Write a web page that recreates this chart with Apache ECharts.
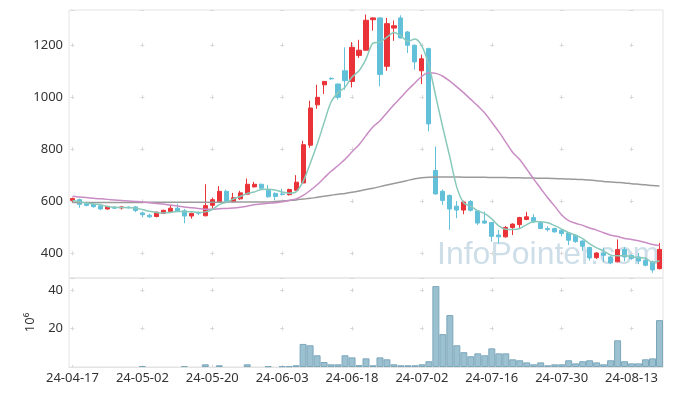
<!DOCTYPE html>
<html><head><meta charset="utf-8">
<script src="https://cdn.jsdelivr.net/npm/echarts@6/dist/echarts.min.js"></script>
<style>html,body{margin:0;padding:0;background:#fff}#c{width:673px;height:396px}</style>
</head><body><div id="c"></div>
<script>
const dates = ['24-04-17','24-04-18','24-04-19','24-04-22','24-04-23','24-04-24','24-04-25','24-04-26','24-04-29','24-04-30',
'24-05-02','24-05-03','24-05-07','24-05-08','24-05-09','24-05-10','24-05-13','24-05-14','24-05-16','24-05-17',
'24-05-20','24-05-21','24-05-22','24-05-23','24-05-24','24-05-27','24-05-28','24-05-29','24-05-30','24-05-31',
'24-06-03','24-06-04','24-06-05','24-06-07','24-06-10','24-06-11','24-06-12','24-06-13','24-06-14','24-06-17',
'24-06-18','24-06-19','24-06-20','24-06-21','24-06-24','24-06-25','24-06-26','24-06-27','24-06-28','24-07-01',
'24-07-02','24-07-03','24-07-04','24-07-05','24-07-08','24-07-09','24-07-10','24-07-11','24-07-12','24-07-15',
'24-07-16','24-07-17','24-07-18','24-07-19','24-07-22','24-07-23','24-07-24','24-07-25','24-07-26','24-07-29',
'24-07-30','24-07-31','24-08-01','24-08-02','24-08-05','24-08-06','24-08-07','24-08-08','24-08-09','24-08-12',
'24-08-13','24-08-14','24-08-16','24-08-19','24-08-20'];
const opens = [603,606,590,588,582,570,577,574,577,578,555,546,541,553,560,573,563,543,557,544,
584,598,638,598,609,627,655,665,642,630,628,625,642,670,815,970,1047,1072,1050,1101,
1060,1160,1180,1297,1304,1118,1265,1304,1250,1199,1101,1186,718,638,622,581,566,599,563,524,
518,470,463,499,510,530,537,517,495,495,488,478,469,447,422,383,401,386,367,414,
392,386,373,367,341];
const closes = [610,588,584,579,570,580,573,578,575,564,548,540,558,565,573,562,543,553,554,583,
606,638,600,613,632,665,665,650,617,618,626,645,673,817,958,999,1060,1070,999,1063,
1191,1180,1295,1304,1087,1282,1274,1227,1199,1135,1147,897,628,603,570,566,597,565,516,516,
465,463,499,512,537,540,520,495,491,482,476,450,445,427,382,401,392,363,414,386,
380,370,354,336,415];
const lows = [596,575,580,575,566,568,570,568,572,558,538,536,538,551,556,558,515,533,547,542,
566,596,597,595,605,625,653,648,614,604,622,622,640,668,805,955,1012,1066,990,1028,
1037,1150,1178,1255,1041,1101,1216,1225,1169,1105,1050,868,625,586,490,535,550,560,509,512,
445,438,460,470,495,527,518,493,484,480,465,431,440,409,372,378,367,358,365,369,
375,358,350,325,338];
const highs = [614,610,598,592,590,582,580,582,580,582,560,552,560,567,585,590,570,556,560,665,
614,658,645,632,640,687,674,668,662,634,648,648,700,832,986,1047,1062,1076,1052,1191,
1211,1220,1317,1306,1306,1304,1294,1314,1254,1202,1163,1190,810,645,626,601,602,605,566,560,
520,490,505,515,540,559,550,520,504,498,492,480,472,450,425,404,422,390,453,424,
395,401,385,372,440];
const volumes = [0,0,0,0,0,0,0,0,0,0,0.5,0,0,0,0,0,0.5,0,0,1.4,
0,0.9,0,0,0,1.4,0,0,0.4,0,0.4,0.4,0.9,12.0,11.3,6.1,2.6,1.4,1.4,6.1,
5.0,1.0,4.5,0.9,5.0,4.0,1.4,0.9,0.9,0.9,1.4,3.0,42.1,17.1,27.0,11.3,7.7,5.6,7.1,6.1,
9.7,7.1,7.1,4.0,3.5,2.4,1.4,2.4,0.9,1.4,1.4,3.5,1.9,3.0,3.5,2.4,1.4,3.5,13.9,3.0,
1.9,1.9,4.0,4.5,24.4];
const ma5 = [603,598,593,589,586,580,577,576,575,574,568,561,557,555,557,560,560,559,557,559,
568,587,596,608,618,630,635,645,646,643,635,631,636,676,744,818,901,981,1017,1038,
1077,1101,1146,1207,1211,1230,1248,1235,1214,1223,1196,1121,1001,882,769,653,593,580,563,552,
532,505,492,491,495,510,522,521,517,506,493,479,469,456,436,421,409,393,390,391,
387,383,381,365,371];
const ma20 = [619,616,614,611,609,607,605,603,601,599,597,594,591,589,585,582,578,575,572,569,
569,571,572,574,577,581,586,589,592,594,598,603,609,622,641,663,689,715,737,761,
790,817,852,886,909,940,970,999,1028,1054,1080,1093,1091,1080,1061,1039,1016,991,966,939,
903,867,827,787,760,723,685,649,613,581,547,525,515,507,497,489,479,469,464,457,
453,448,441,434,430];
const maLong = [595,595,595,595,595,595,595,595,595,595,595,596,596,596,596,596,596,596,596,596,
596,596,596,597,597,597,597,597,597,599,601,603,605,608,611,615,619,623,627,630,
634,639,645,650,656,662,668,674,680,686,690,692,693,693,693,693,692,692,692,692,
691,691,691,690,690,689,689,688,688,687,686,685,684,683,681,679,676,674,672,670,
667,665,663,660,658];

const candleData = opens.map((o, i) => [o, closes[i], lows[i], highs[i]]);
const volumeData = volumes.map(v => (v > 0 ? v : '-'));

// layout constants
const L = 69, W = 594, T1 = 10, H1 = 268, T2 = 278, H2 = 89;
const pMin = 305, pMax = 1334.4, vMax = 46.3;
const n = dates.length;
const bandW = W / n, xPeriod = bandW * 10, dashLen = 4;
const xOff = xPeriod - (bandW / 2 - dashLen / 2);
const pPeriod = H1 * 200 / (pMax - pMin);
const pFirst = H1 * (pMax - 1200) / (pMax - pMin);
const pOff = pPeriod - (pFirst - dashLen / 2);
const vPeriod = H2 * 20 / vMax;
const vFirst = H2 * (vMax - 40) / vMax;
const vOff = vPeriod - (vFirst - dashLen / 2);
const gridCol = '#d9d9d9';
const font = 'Noto Sans';
const plain = v => String(Math.round(v));

const chart = echarts.init(document.getElementById('c'), null, {renderer: 'canvas'});
chart.setOption({
  animation: false,
  backgroundColor: '#fff',
  textStyle: {fontFamily: font},
  graphic: [{
    type: 'text', left: 437, top: 239, z: -10,
    style: {text: 'InfoPointer.com', font: '32px "Liberation Sans", Arial, sans-serif', fill: 'rgba(145,182,206,0.45)'}
  }],
  grid: [
    {left: L, top: T1, width: W, height: H1, show: true, borderColor: '#e3e3e3', borderWidth: 1, backgroundColor: 'transparent'},
    {left: L, top: T2, width: W, height: H2, show: true, borderColor: '#e3e3e3', borderWidth: 1, backgroundColor: 'transparent'}
  ],
  xAxis: [
    {type: 'category', data: dates, gridIndex: 0, boundaryGap: true,
     axisLine: {show: false}, axisTick: {show: false}, axisLabel: {show: false},
     splitLine: {show: true, interval: 9, alignWithLabel: true,
       lineStyle: {color: gridCol, width: 1, type: [dashLen, pPeriod - dashLen], dashOffset: pOff}}},
    {type: 'category', data: dates, gridIndex: 1, boundaryGap: true,
     axisLine: {show: true, lineStyle: {color: '#e3e3e3'}}, axisTick: {show: false},
     axisLabel: {interval: 9, color: '#333', fontSize: 13, margin: 5, fontFamily: font},
     splitLine: {show: true, interval: 9, alignWithLabel: true,
       lineStyle: {color: gridCol, width: 1, type: [dashLen, vPeriod - dashLen], dashOffset: vOff}}}
  ],
  yAxis: [
    {type: 'value', gridIndex: 0, min: pMin, max: pMax, splitNumber: 5, scale: true,
     axisLine: {show: false}, axisTick: {show: false},
     axisLabel: {color: '#333', fontSize: 13, margin: 6, showMinLabel: false, showMaxLabel: false, fontFamily: font, formatter: plain},
     splitLine: {show: true, lineStyle: {color: gridCol, width: 1, type: [dashLen, xPeriod - dashLen], dashOffset: xOff}}},
    {type: 'value', gridIndex: 1, min: 0, max: vMax, interval: 20,
     name: '10\u2076', nameLocation: 'middle', nameRotate: 90, nameGap: 31,
     nameTextStyle: {color: '#333', fontSize: 13, fontFamily: font},
     axisLine: {show: false}, axisTick: {show: false},
     axisLabel: {color: '#333', fontSize: 13, margin: 6, showMinLabel: false, showMaxLabel: false, fontFamily: font, formatter: plain},
     splitLine: {show: true, lineStyle: {color: gridCol, width: 1, type: [dashLen, xPeriod - dashLen], dashOffset: xOff}}}
  ],
  series: [
    {type: 'candlestick', xAxisIndex: 0, yAxisIndex: 0, data: candleData, barWidth: 4.6,
     itemStyle: {color: '#ea3338', color0: '#63c0d9', borderColor: '#ea3338', borderColor0: '#63c0d9', borderWidth: 1}},
    {type: 'line', xAxisIndex: 0, yAxisIndex: 0, data: maLong, symbol: 'none', smooth: 0.3,
     lineStyle: {color: '#9a9a9a', width: 1.5}},
    {type: 'line', xAxisIndex: 0, yAxisIndex: 0, data: ma20, symbol: 'none', smooth: 0.3,
     lineStyle: {color: '#c98cc4', width: 1.5}},
    {type: 'line', xAxisIndex: 0, yAxisIndex: 0, data: ma5, symbol: 'none', smooth: 0.3,
     lineStyle: {color: '#88c9bb', width: 1.5}},
    {type: 'bar', xAxisIndex: 1, yAxisIndex: 1, data: volumeData, barCategoryGap: '0%',
     itemStyle: {color: '#9bc0d0', borderColor: '#7ca7bb', borderWidth: 1}}
  ]
});
</script></body></html>
